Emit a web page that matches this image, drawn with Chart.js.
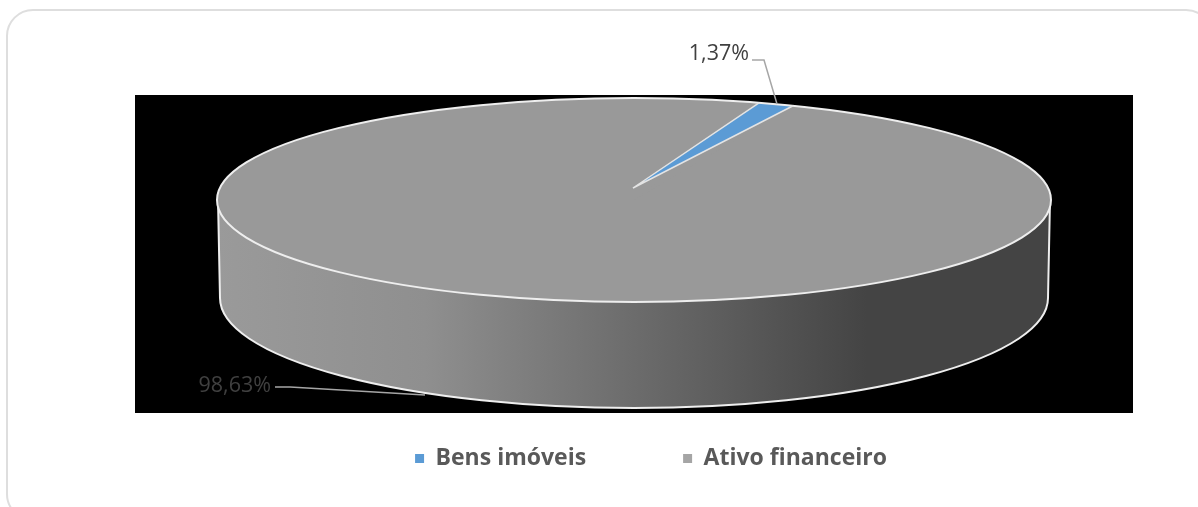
<!DOCTYPE html>
<html>
<head>
<meta charset="utf-8">
<script src="https://cdn.jsdelivr.net/npm/chart.js@4"></script>
<style>
  body { margin: 0; background: #fff; overflow: hidden; }
  canvas { display: block; }
</style>
</head>
<body>
<canvas id="grafico" width="1198" height="507"></canvas>
<script>
// dados
var categorias = ['Bens imóveis', 'Ativo financeiro'];
var valores = [1.37, 98.63];
var coresFatia = ['#5b9bd5', '#999999'];
var coresLegenda = ['#5b9bd5', '#a5a5a5'];

// geometria do "3D"
var topo = { x: 634, y: 200, rx: 417, ry: 102 };
var base = { x: 634, y: 298, rx: 414, ry: 110 };
var vertice = { x: 633, y: 188 };   // centro aparente, a perspectiva sobe o ponto
var rotacao = 17.5;

function rotulo(v) {
    return v.toFixed(2).replace('.', ',') + '%';
}

// mapeia o circulo do Chart.js para a elipse do topo
function pontoTopo(ang) {
    return { x: topo.x + topo.rx * Math.cos(ang), y: topo.y + topo.ry * Math.sin(ang) };
}

function caminhoElipse(ctx, e) {
    ctx.beginPath();
    ctx.ellipse(e.x, e.y, e.rx, e.ry, 0, 0, Math.PI * 2);
}

var pizza3d = {
    id: 'pizza3d',
    beforeDraw: function (chart) {
        var ctx = chart.ctx;
        ctx.save();
        // moldura
        ctx.strokeStyle = '#dedede';
        ctx.lineWidth = 2;
        ctx.beginPath();
        ctx.roundRect(7, 10, 1205, 510, 26);
        ctx.stroke();
        // fundo preto
        ctx.fillStyle = '#000';
        ctx.fillRect(135, 95, 998, 318);
        ctx.restore();
    },
    afterLayout: function (chart) {
        // a legenda fica deslocada do centro, como no original
        var l = chart.legend;
        var dx = 17;
        l.left += dx;
        l.right += dx;
        var h = l.height;
        l.top = 459 - l.options.labels.padding - 12;
        l.bottom = l.top + h;
    },
    beforeDatasetDraw: function (chart, args) {
        var ctx = chart.ctx;
        var arcos = args.meta.data;

        // parede lateral
        ctx.save();
        var grad = ctx.createLinearGradient(217, 0, 1050, 0);
        grad.addColorStop(0, '#9a9a9a');
        grad.addColorStop(0.25, '#8f8f8f');
        grad.addColorStop(0.5, '#6c6c6c');
        grad.addColorStop(0.78, '#444444');
        grad.addColorStop(1, '#444444');
        ctx.beginPath();
        ctx.moveTo(topo.x - topo.rx + 1, topo.y);
        ctx.lineTo(base.x - base.rx, base.y);
        ctx.ellipse(base.x, base.y, base.rx, base.ry, 0, Math.PI, 0, true);
        ctx.lineTo(topo.x + topo.rx - 1, topo.y);
        ctx.closePath();
        ctx.fillStyle = grad;
        ctx.fill();
        ctx.strokeStyle = '#eeeeee';
        ctx.lineWidth = 2;
        ctx.stroke();

        // topo
        caminhoElipse(ctx, topo);
        ctx.fillStyle = coresFatia[1];
        ctx.fill();
        ctx.restore();

        // fatias, do ultimo para o primeiro
        for (var i = arcos.length - 1; i >= 0; i--) {
            var a = arcos[i];
            var R = a.outerRadius;
            ctx.save();
            if (i === 0) {
                // fatia pequena: leva centro e as duas pontas para os pontos da elipse
                var p1 = pontoTopo(a.startAngle);
                var p2 = pontoTopo(a.endAngle);
                var ux = R * Math.cos(a.startAngle), uy = R * Math.sin(a.startAngle);
                var vx = R * Math.cos(a.endAngle), vy = R * Math.sin(a.endAngle);
                var det = ux * vy - uy * vx;
                var ax = p1.x - vertice.x, ay = p1.y - vertice.y;
                var bx = p2.x - vertice.x, by = p2.y - vertice.y;
                var m11 = (ax * vy - bx * uy) / det;
                var m12 = (bx * ux - ax * vx) / det;
                var m21 = (ay * vy - by * uy) / det;
                var m22 = (by * ux - ay * vx) / det;
                ctx.transform(m11, m21, m12, m22, vertice.x, vertice.y);
            } else {
                ctx.translate(topo.x, topo.y);
                ctx.scale(topo.rx / R, topo.ry / R);
            }
            ctx.translate(-a.x, -a.y);
            a.draw(ctx);
            ctx.restore();
        }

        // contornos brancos
        ctx.save();
        ctx.strokeStyle = '#eeeeee';
        ctx.lineWidth = 2;
        caminhoElipse(ctx, topo);
        ctx.stroke();
        ctx.lineWidth = 1.5;
        ctx.strokeStyle = '#e4e4e4';
        var q1 = pontoTopo(arcos[0].startAngle);
        var q2 = pontoTopo(arcos[0].endAngle);
        ctx.beginPath();
        ctx.moveTo(q1.x, q1.y);
        ctx.lineTo(vertice.x, vertice.y);
        ctx.lineTo(q2.x, q2.y);
        ctx.stroke();
        ctx.restore();
        return false;
    },
    afterDraw: function (chart) {
        var ctx = chart.ctx;
        ctx.save();
        // linhas de chamada
        ctx.strokeStyle = '#a6a6a6';
        ctx.lineWidth = 1.5;
        ctx.beginPath();
        ctx.moveTo(752, 60);
        ctx.lineTo(764, 60);
        ctx.lineTo(777, 104);
        ctx.stroke();
        ctx.beginPath();
        ctx.moveTo(275, 387);
        ctx.lineTo(290, 387);
        ctx.lineTo(425, 395);
        ctx.stroke();
        // rotulos
        ctx.font = '21.5px "Open Sans"';
        ctx.fillStyle = '#404040';
        ctx.textBaseline = 'middle';
        ctx.textAlign = 'right';
        ctx.fillText(rotulo(valores[0]), 749, 54);
        ctx.fillText(rotulo(valores[1]), 271, 386);
        ctx.restore();
    }
};

new Chart(document.getElementById('grafico').getContext('2d'), {
    type: 'pie',
    data: {
        labels: categorias,
        datasets: [{
            data: valores,
            backgroundColor: coresFatia,
            borderWidth: 0
        }]
    },
    options: {
        responsive: false,
        animation: false,
        rotation: rotacao,
        layout: { padding: { left: 135, right: 65, top: 95, bottom: 0 } },
        plugins: {
            tooltip: { enabled: false },
            legend: {
                position: 'bottom',
                labels: {
                    font: { family: '"Open Sans"', size: 23, weight: 'bold' },
                    boxWidth: 9,
                    boxHeight: 9,
                    padding: 97,
                    generateLabels: function (chart) {
                        return categorias.map(function (c, i) {
                            return { text: c, fontColor: '#595959', fillStyle: coresLegenda[i], strokeStyle: coresLegenda[i], lineWidth: 0, index: i, hidden: false };
                        });
                    }
                }
            }
        }
    },
    plugins: [pizza3d]
});
</script>
</body>
</html>
